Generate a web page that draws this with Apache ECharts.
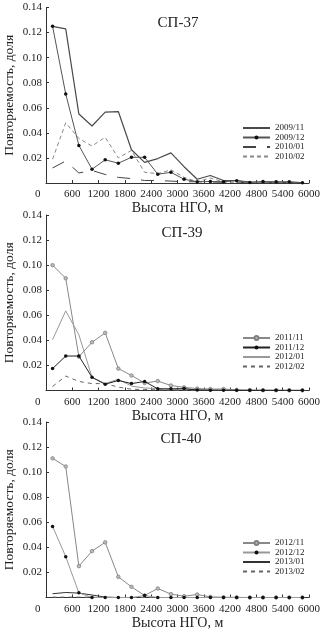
<!DOCTYPE html>
<html>
<head>
<meta charset="utf-8">
<script src="https://cdn.jsdelivr.net/npm/echarts@6/dist/echarts.min.js"></script>
<style>
html,body{margin:0;padding:0;background:#fff;}
#c{width:322px;height:633px;}
</style>
</head>
<body>
<div id="c"></div>
<script>
// ---- data ----
const heights = [150, 450, 750, 1050, 1350, 1650, 1950, 2250, 2550, 2850, 3150, 3450, 3750, 4050, 4350, 4650, 4950, 5250, 5550, 5850];
const panelTitles = ['СП-37', 'СП-39', 'СП-40'];
const xAxisName = 'Высота НГО, м';
const yAxisName = 'Повторяемость, доля';
const X_MIN = 0, X_MAX = 6000, X_STEP = 600;
const Y_MIN = 0, Y_MAX = 0.14, Y_STEP = 0.02;

// СП-37
const sp37Names = ['2009/11', '2009/12', '2010/01', '2010/02'];
const sp37_2009_11 = [0.125, 0.123, 0.055, 0.0455, 0.0565, 0.057, 0.0265, 0.0165, 0.0195, 0.024, 0.013, 0.003, 0.006, 0.002, 0.002, 0.0008, 0.0008, 0.0005, 0.0005, 0.0003];
const sp37_2009_12 = [0.125, 0.071, 0.030, 0.011, 0.0185, 0.0158, 0.0205, 0.0205, 0.007, 0.0085, 0.003, 0.001, 0.0012, 0.001, 0.0018, 0.0004, 0.0012, 0.001, 0.001, 0.0002];
const sp37_2010_01 = [0.012, 0.0175, 0.008, 0.010, 0.0068, 0.0045, 0.0035, 0.002, 0.002, 0.0015, 0.001, 0.001, 0.0008, 0.0005, 0.0005, 0.0003, 0.0003, 0.0002, 0.0002, 0.0001];
const sp37_2010_02 = [0.019, 0.048, 0.0355, 0.0295, 0.0365, 0.020, 0.026, 0.0085, 0.0075, 0.0105, 0.0045, 0.001, 0.004, 0.0008, 0.0005, 0.0003, 0.0003, 0.0002, 0.0002, 0.0001];

// СП-39
const sp39Names = ['2011/11', '2011/12', '2012/01', '2012/02'];
const sp39_2011_11 = [0.100, 0.0895, 0.027, 0.0385, 0.046, 0.0175, 0.012, 0.006, 0.0075, 0.004, 0.0025, 0.0015, 0.0012, 0.0012, 0.0005, 0.0003, 0.0002, 0.0002, 0.0001, 0.0001];
const sp39_2011_12 = [0.0175, 0.0275, 0.0275, 0.0105, 0.005, 0.008, 0.0055, 0.0072, 0.0013, 0.0013, 0.0015, 0.0003, 0.0002, 0.0002, 0.0001, 0.0001, 0.0001, 0.0001, 0.0001, 0.0001];
const sp39_2012_01 = [0.0405, 0.0635, 0.0445, 0.0105, 0.0055, 0.009, 0.0035, 0.002, 0.0015, 0.001, 0.001, 0.0008, 0.0005, 0.0003, 0.0002, 0.0001, 0.0001, 0, 0, 0];
const sp39_2012_02 = [0.0032, 0.0115, 0.0072, 0.0055, 0.0055, 0.0027, 0.001, 0.0008, 0.0005, 0.0003, 0.0002, 0.0001, 0.0001, 0, 0, 0, 0, 0, 0, 0];

// СП-40
const sp40Names = ['2012/11', '2012/12', '2013/01', '2013/02'];
const sp40_2012_11 = [0.111, 0.1045, 0.025, 0.037, 0.044, 0.0165, 0.0085, 0.0016, 0.0072, 0.0027, 0.001, 0.0024, 0.0005, 0.0002, 0.0001, 0, 0, 0, 0, 0];
const sp40_2012_12 = [0.0567, 0.0326, 0.0037, 0, 0, 0, 0, 0.0015, 0, 0, 0, 0, 0, 0, 0, 0, 0, 0, 0, 0];
const sp40_2013_01 = [0.003, 0.004, 0.0035, 0.002, 0.0003, 0, 0, 0, 0, 0, 0, 0, 0, 0, 0, 0, 0, 0, 0, 0];
const sp40_2013_02 = [0.0003, 0.0003, 0.0003, 0.0002, 0.0001, 0, 0, 0, 0, 0, 0, 0, 0, 0, 0, 0, 0, 0, 0, 0];

// ---- layout / style ----
const FONT = 'Liberation Serif';
const gridTops = [7.5, 215, 422];
const gridH = 175.5;
const titleTops = [11, 221, 427];
const titleLefts = [173, 177, 176];
const legendTops = [123.5, 333.5, 538.5];

const pairs = vals => heights.map((h, i) => [h, vals[i]]);

function lineSeries(name, vals, idx, opt) {
  return {
    name: name, type: 'line', xAxisIndex: idx, yAxisIndex: idx,
    data: pairs(vals), smooth: false, animation: false,
    lineStyle: { color: opt.color, width: opt.width || 1, type: opt.type || 'solid' },
    itemStyle: { color: opt.symColor || opt.color, borderColor: opt.symBorder || opt.symColor || opt.color, borderWidth: opt.symBorderW || 0 },
    color: opt.color,
    symbol: opt.symbol || 'none', symbolSize: opt.symbolSize || 3.5, showSymbol: !!opt.symbol,
    z: opt.z || 2,
    emphasis: { disabled: true }
  };
}

const series = [
  lineSeries(sp37Names[0], sp37_2009_11, 0, { color: '#4a4a4a', width: 1.2 }),
  lineSeries(sp37Names[1], sp37_2009_12, 0, { color: '#555', symbol: 'circle', symColor: '#111', z: 3 }),
  lineSeries(sp37Names[2], sp37_2010_01, 0, { color: '#444', type: [13, 11] }),
  lineSeries(sp37Names[3], sp37_2010_02, 0, { color: '#888', type: [4, 3] }),

  lineSeries(sp39Names[0], sp39_2011_11, 1, { color: '#888', symbol: 'circle', symColor: '#bbb', symBorder: '#808080', symBorderW: 0.8, symbolSize: 3.5 }),
  lineSeries(sp39Names[1], sp39_2011_12, 1, { color: '#222', symbol: 'circle', symColor: '#111', z: 3 }),
  lineSeries(sp39Names[2], sp39_2012_01, 1, { color: '#999' }),
  lineSeries(sp39Names[3], sp39_2012_02, 1, { color: '#666', type: [4, 4] }),

  lineSeries(sp40Names[0], sp40_2012_11, 2, { color: '#888', symbol: 'circle', symColor: '#bbb', symBorder: '#808080', symBorderW: 0.8, symbolSize: 3.5 }),
  lineSeries(sp40Names[1], sp40_2012_12, 2, { color: '#999', symbol: 'circle', symColor: '#111', z: 3 }),
  lineSeries(sp40Names[2], sp40_2013_01, 2, { color: '#333' }),
  lineSeries(sp40Names[3], sp40_2013_02, 2, { color: '#666', type: [4, 4] })
];

const grids = gridTops.map(t => ({ left: 46, width: 263, top: t, height: gridH, containLabel: false, outerBoundsMode: 'none' }));

const xAxes = gridTops.map((t, i) => ({
  type: 'value', gridIndex: i, min: X_MIN, max: X_MAX, interval: X_STEP,
  name: xAxisName, nameLocation: 'middle', nameGap: 18.5, nameMoveOverlap: false,
  nameTextStyle: { fontFamily: FONT, fontSize: 14, color: '#222' },
  axisLine: { show: true, lineStyle: { color: '#333', width: 1 } },
  axisTick: { show: true, inside: true, length: 3, lineStyle: { color: '#333' } },
  splitLine: { show: false },
  axisLabel: {
    fontFamily: FONT, fontSize: 11, color: '#222', margin: 6, showMinLabel: true, showMaxLabel: true,
    alignMinLabel: 'right',
    formatter: v => v === 0 ? '0\u00a0\u00a0' : String(v)
  }
}));

const yAxes = gridTops.map((t, i) => ({
  type: 'value', gridIndex: i, min: Y_MIN, max: Y_MAX, interval: Y_STEP,
  name: yAxisName, nameLocation: 'middle', nameGap: 30, nameMoveOverlap: false,
  nameTextStyle: { fontFamily: FONT, fontSize: 13.5, color: '#222' },
  axisLine: { show: true, lineStyle: { color: '#333', width: 1 } },
  axisTick: { show: true, inside: true, length: 3, lineStyle: { color: '#333' } },
  splitLine: { show: false },
  axisLabel: {
    fontFamily: FONT, fontSize: 11, color: '#222', margin: 4,
    formatter: v => v === 0 ? '' : v.toFixed(2)
  }
}));

const titles = panelTitles.map((txt, i) => ({
  text: txt, left: titleLefts[i], top: titleTops[i], textAlign: 'center',
  textStyle: { fontFamily: FONT, fontSize: 15, fontWeight: 'normal', color: '#222' }
}));

const markerSeries = ['2009/12', '2011/11', '2011/12', '2012/11', '2012/12'];
const legendNames = [sp37Names, sp39Names, sp40Names];
const legends = legendNames.map((names, i) => ({
  data: names.map(n => markerSeries.indexOf(n) >= 0 ? { name: n } : { name: n, itemStyle: { opacity: 0, borderWidth: 0 } }),
  orient: 'vertical', left: 242, top: legendTops[i],
  itemWidth: 27, itemHeight: 5, itemGap: 0.5, padding: 0,
  textStyle: { fontFamily: FONT, fontSize: 9, color: '#222', lineHeight: 9 },
  selectedMode: false
}));

const chart = echarts.init(document.getElementById('c'), null, { renderer: 'canvas' });
chart.setOption({
  backgroundColor: '#fff',
  animation: false,
  title: titles,
  legend: legends,
  grid: grids,
  xAxis: xAxes,
  yAxis: yAxes,
  series: series
});
</script>
</body>
</html>
